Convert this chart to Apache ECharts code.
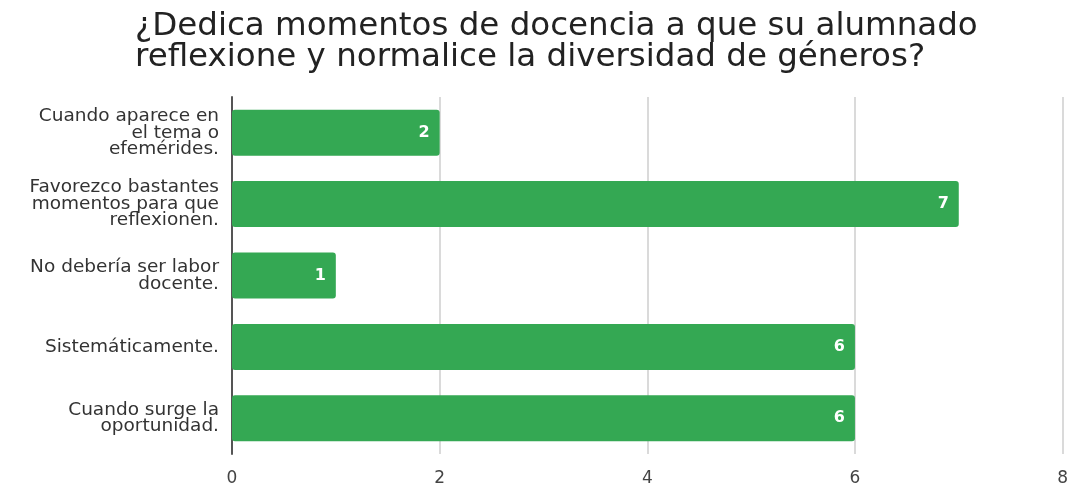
<!DOCTYPE html>
<html>
<head>
<meta charset="utf-8">
<script src="https://cdn.jsdelivr.net/npm/echarts@6/dist/echarts.min.js"></script>
<style>
  html, body { margin: 0; padding: 0; background: #fff; }
  #main { width: 1071px; height: 492px; }
</style>
</head>
<body>
<div id="main"></div>
<script>
var categories = [
  'Cuando aparece en\nel tema o\nefemérides.',
  'Favorezco bastantes\nmomentos para que\nreflexionen.',
  'No debería ser labor\ndocente.',
  'Sistemáticamente.',
  'Cuando surge la\noportunidad.'
];
var values = [2, 7, 1, 6, 6];
var xTicks = [0, 2, 4, 6, 8];

var myChart = echarts.init(document.getElementById('main'));

var option = {
  animation: false,
  title: {
    text: '¿Dedica momentos de docencia a que su alumnado\nreflexione y normalice la diversidad de géneros?',
    left: 130,
    top: 6,
    textStyle: {
      fontFamily: 'DejaVu Sans',
      fontSize: 32.5,
      fontWeight: 'normal',
      lineHeight: 31,
      color: '#222'
    }
  },
  grid: {
    left: 232,
    right: 8,
    top: 97,
    bottom: 38
  },
  xAxis: {
    type: 'value',
    min: 0,
    max: 8,
    interval: 2,
    axisLine: { show: false },
    axisTick: { show: false },
    splitLine: { lineStyle: { color: '#dadada', width: 2 } },
    axisLabel: {
      margin: 16,
      fontFamily: 'DejaVu Sans',
      fontSize: 17,
      color: '#444',
      formatter: function (v) { return xTicks.indexOf(v) >= 0 ? String(v) : ''; }
    }
  },
  yAxis: {
    type: 'category',
    inverse: true,
    data: categories,
    axisTick: { show: false },
    axisLine: { lineStyle: { color: '#555', width: 2 } },
    axisLabel: {
      margin: 13,
      fontFamily: 'DejaVu Sans',
      fontSize: 18.5,
      lineHeight: 16.5,
      color: '#333',
      align: 'right'
    }
  },
  series: [{
    type: 'bar',
    data: values,
    barWidth: 46,
    itemStyle: { color: '#34a853', borderRadius: 3 },
    label: {
      show: true,
      position: 'insideRight',
      distance: 10,
      color: '#fff',
      fontFamily: 'DejaVu Sans',
      fontSize: 16,
      fontWeight: 'bold'
    }
  }]
};

myChart.setOption(option);
</script>
</body>
</html>
